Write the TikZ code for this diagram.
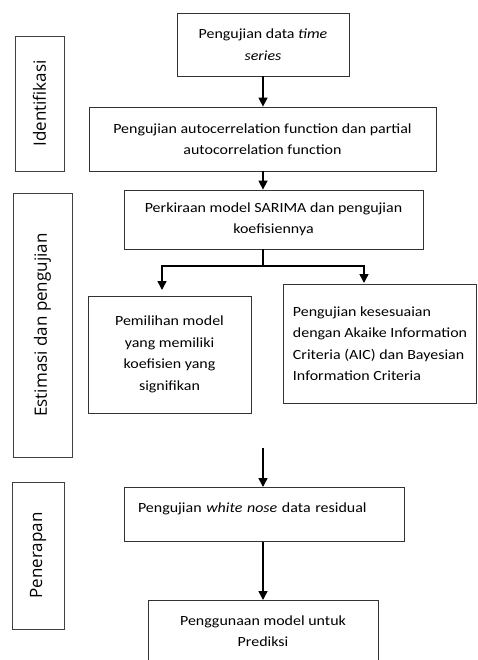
\documentclass[tikz,border=0pt]{standalone}
\usepackage{fontspec}
\setmainfont{Carlito}[FakeStretch=1.14]
\newfontfamily\sidefont{Open Sans}
\usetikzlibrary{arrows.meta}
\begin{document}
\begin{tikzpicture}[x=1pt,y=-1pt,
  box/.style={draw=black!80,line width=0.8pt,inner sep=3pt,align=center,
    font=\fontsize{14}{21.5}\selectfont},
  side/.style={draw=black!75,line width=0.8pt,rotate=90,inner sep=0pt,
    font=\sidefont\fontsize{17}{20}\selectfont},
  arr/.style={line width=1.5pt,-{Triangle[length=9pt,width=9pt]}},
  conn/.style={line width=1.5pt}]
\clip (0,0) rectangle (477,660);
\fill[white] (0,0) rectangle (477,660);
% side labels
\node[side,minimum width=135,minimum height=49] (s1) at (39.5,103.5) {Identifikasi};
\node[side,minimum width=264,minimum height=59] (s2) at (42.5,325) {Estimasi dan pengujian};
\node[side,minimum width=147,minimum height=52] (s3) at (38,555.5) {Penerapan};
% boxes
\node[box,minimum width=172,minimum height=63] (b1) at (263,44.5) {Pengujian data \textit{time}\\\textit{series}};
\node[box,minimum width=347,minimum height=64] (b2) at (262.5,139) {Pengujian autocerrelation function dan partial\\autocorrelation function};
\node[box,minimum width=299,minimum height=59] (b3) at (273.5,219.5) {Perkiraan model SARIMA dan pengujian\\koefisiennya};
\node[box,minimum width=163,minimum height=117] (b4) at (169.5,354.5) {Pemilihan model\\yang memiliki\\koefisien yang\\signifikan};
\node[box,minimum width=193,minimum height=119,inner xsep=0pt,align=left] (b5) at (380,343.5) {Pengujian kesesuaian\\dengan Akaike Information\\Criteria (AIC) dan Bayesian\\Information Criteria};
\node[box,minimum width=280,text width=252,inner xsep=14pt,inner ysep=0pt,align=left,text height=25,text depth=29] (b6) at (264,487) [anchor=north] {Pengujian \textit{white nose} data residual};
\node[box,anchor=north,minimum width=230,inner sep=15pt] (b7) at (263,600) {Penggunaan model untuk\\Prediksi};
% connectors
\draw[arr] (b1.south) -- (b1.south |- b2.north);
\draw[arr] (b2.south -| b1.south) -- (b1.south |- b3.north);
\coordinate (j) at (263,266);
\coordinate (tl) at (162,290);
\coordinate (tr) at (364,283);
\draw[conn] (b3.south -| j) -- (j);
\draw[arr] (j) -| (tl);
\draw[arr] (j) -| (tr);
\coordinate (fa) at (263,448);
\draw[arr] (fa) -- (fa |- b6.north);
\draw[arr] (b6.south -| fa) -- (fa |- b7.north);
\end{tikzpicture}
\end{document}
